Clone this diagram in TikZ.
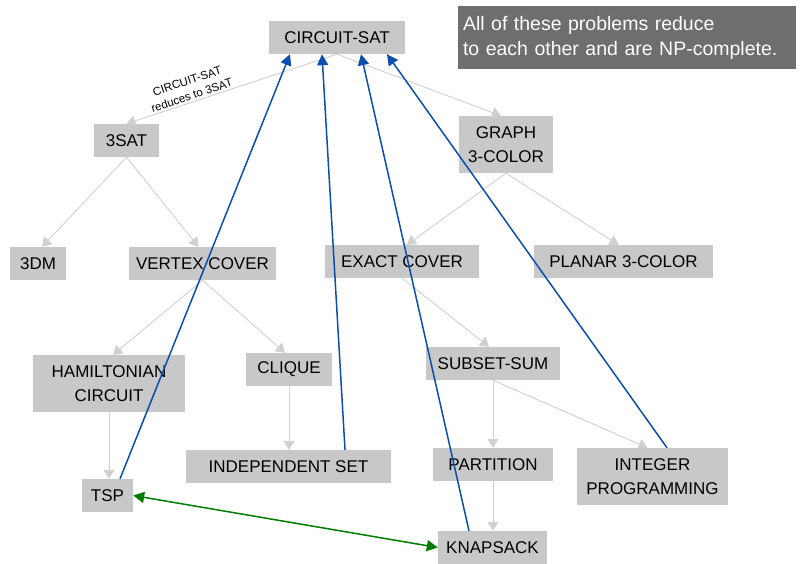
\documentclass[tikz,border=0pt]{standalone}
\usepackage{fontspec}
\setmainfont{Liberation Sans}
\usetikzlibrary{positioning, arrows.meta}

\definecolor{boxgray}{RGB}{200,200,200}
\definecolor{edgegray}{RGB}{208,208,208}
\definecolor{notegray}{RGB}{110,110,110}
\definecolor{cookblue}{RGB}{12,78,176}
\definecolor{eqgreen}{RGB}{0,125,0}

\begin{document}
\begin{tikzpicture}[x=1pt, y=-1pt,
    prob/.style={fill=boxgray, inner sep=0pt, minimum height=33pt, align=center,
                 font=\fontsize{17}{24}\selectfont},
    reduce/.style={draw=edgegray, line width=0.9pt, -{Triangle[length=9pt,width=11pt]}},
    cook/.style={draw=cookblue, line width=1.5pt, -{Triangle[length=11pt,width=11pt]}},
    equiv/.style={draw=eqgreen, line width=1.5pt, {Triangle[length=11pt,width=11pt]}-{Triangle[length=11pt,width=11pt]}}]
            \useasboundingbox (0,0) rectangle (800,563);

            % problems
            \node[prob, minimum width=136pt] (csat) at (337,37.5) {CIRCUIT-SAT};
            \node[prob, minimum width=65pt] (sat) at (126.5,140.5) {3SAT};
            \node[prob, minimum width=94pt, minimum height=57pt] (gcol) at (506,144.5) {GRAPH\\3-COLOR};
            \node[prob, minimum width=56pt] (tdm) at (38,263.5) {3DM};
            \node[prob, minimum width=147pt] (vc) at (202.5,263.5) {VERTEX COVER};
            \node[prob, minimum width=154pt] (xc) at (402,261.5) {EXACT COVER};
            \node[prob, minimum width=179pt] (pcol) at (623.5,261.5) {PLANAR 3-COLOR};
            \node[prob, minimum width=152pt, minimum height=57pt] (ham) at (109,383.5) {HAMILTONIAN\\CIRCUIT};
            \node[prob, minimum width=86pt] (clq) at (289,369.5) {CLIQUE};
            \node[prob, minimum width=134pt] (ssum) at (493,363.5) {SUBSET-SUM};
            \node[prob, minimum width=205pt] (indep) at (288.5,466.5) {INDEPENDENT SET};
            \node[prob, minimum width=120pt] (part) at (493,464.5) {PARTITION};
            \node[prob, minimum width=151pt, minimum height=57pt] (ip) at (652.5,476.5) {INTEGER\\PROGRAMMING};
            \node[prob, minimum width=51pt] (tsp) at (107.5,495.5) {TSP};
            \node[prob, minimum width=109pt] (knap) at (492.5,547.5) {KNAPSACK};

            % note
            \node[fill=notegray, text=white, minimum height=63pt, inner xsep=5pt, inner ysep=0pt,
                  align=left, text width=328pt, font=\fontsize{19.5}{25}\selectfont] (note) at (627,37.5)
                {All of these problems reduce\\to each other and are NP-complete.};

            % reductions
            \draw[reduce] (csat.south) -- node[pos=0.68, above, sloped, align=center,
                  font=\fontsize{11.5}{15}\selectfont, inner sep=2pt] {CIRCUIT-SAT\\reduces to 3SAT} (sat.north);
            \draw[reduce] (csat.south) -- ([xshift=-5pt]gcol.north);
            \draw[reduce] (sat.south) -- ([xshift=4pt]tdm.north);
            \draw[reduce] (sat.south) -- ([xshift=-4pt]vc.north);
            \draw[reduce] (gcol.south) -- ([xshift=5pt]xc.north);
            \draw[reduce] (gcol.south) -- ([xshift=-5pt]pcol.north);
            \draw[reduce] (vc.south) -- ([xshift=4pt]ham.north);
            \draw[reduce] (vc.south) -- ([xshift=-4pt]clq.north);
            \draw[reduce] (xc.south) -- ([xshift=-4pt]ssum.north);
            \draw[reduce] (ssum.south) -- (part.north);
            \draw[reduce] (ssum.south) -- ([xshift=-5pt]ip.north);
            \draw[reduce] (clq.south) -- (clq.south |- indep.north);
            \draw[reduce] (ham.south) -- (ham.south |- tsp.north);
            \draw[reduce] (part.south) -- (part.south |- knap.north);

            % back to CIRCUIT-SAT
            \draw[cook] ([xshift=12.5pt]tsp.north) -- ([xshift=-47pt]csat.south);
            \draw[cook] ([xshift=56.5pt]indep.north) -- ([xshift=-15pt]csat.south);
            \draw[cook] ([xshift=-23.5pt]knap.north) -- ([xshift=24pt]csat.south);
            \draw[cook] ([xshift=14.5pt]ip.north) -- ([xshift=50pt]csat.south);

            \draw[equiv] (tsp.east) -- (knap.west);
\end{tikzpicture}
\end{document}
